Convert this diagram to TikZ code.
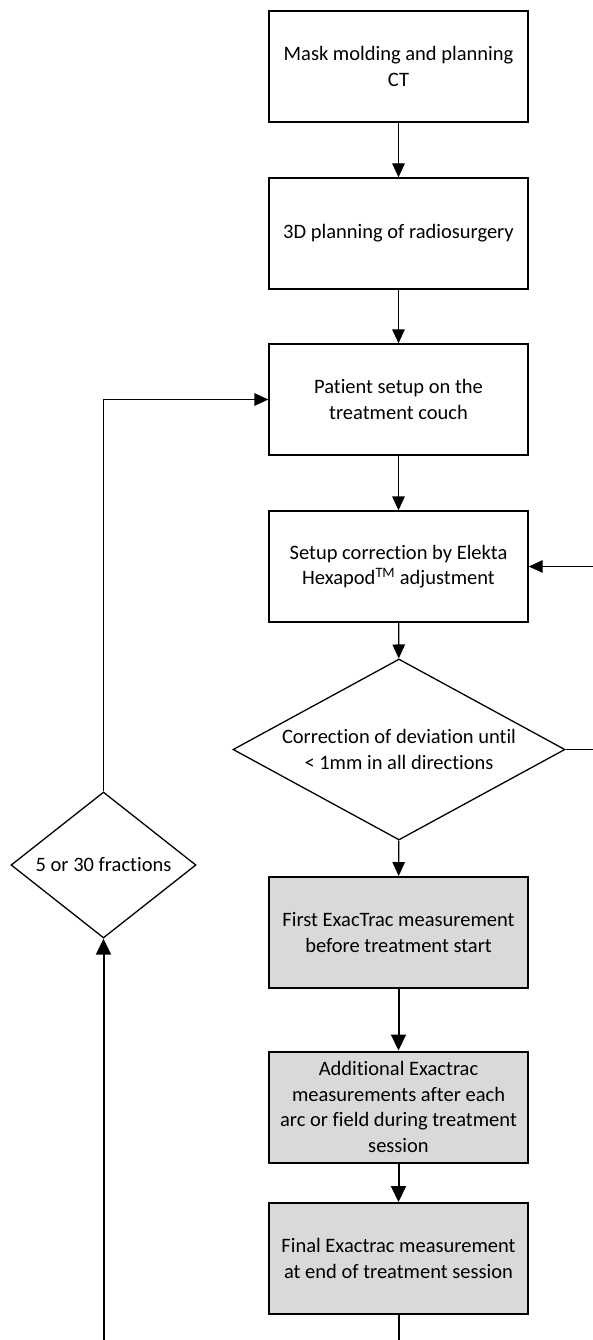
\documentclass[tikz,border=0pt]{standalone}
\usepackage{fontspec}
\setmainfont[Ligatures=NoCommon]{Carlito}
\usetikzlibrary{arrows.meta,shapes.geometric}
\definecolor{boxgray}{HTML}{D9D9D9}
\begin{document}
\begin{tikzpicture}[x=1pt,y=-1pt,
  font=\fontsize{20.5}{25.5}\selectfont,
  thinline/.style={line width=1.3pt},
  thickline/.style={line width=2pt},
  thinarrow/.style={thinline,-{Triangle[length=14pt,width=12.5pt]}},
  thickarrow/.style={thickline,-{Triangle[length=16pt,width=15pt]}},
  stepbox/.style={draw,thinline,rectangle,minimum width=259pt,minimum height=111pt,inner sep=0pt,align=center},
  graybox/.style={stepbox,thickline,fill=boxgray},
  dia/.style={draw,thinline,diamond,inner sep=0pt}
]
\useasboundingbox[fill=white] (0,0) rectangle (592,1340);

\node[stepbox] (b1) at (398.5,66.5) {Mask molding and planning\\CT};
\node[stepbox] (b2) at (398.5,233.5) {3D planning of radiosurgery};
\node[stepbox] (b3) at (398.5,399.5) {Patient setup on the\\treatment couch};
\node[stepbox] (b4) at (398.5,566.5) {Setup correction by Elekta\\Hexapod\textsuperscript{TM} adjustment};
\node[dia,minimum width=332pt,minimum height=181pt,
  label={[align=center]center:Correction of deviation until\\< 1mm in all directions}] (d1) at (399,749.5) {};
\node[graybox] (b5) at (398.5,932.5) {First ExacTrac measurement\\before treatment start};
\node[graybox] (b6) at (398.5,1107) {Additional Exactrac\\measurements after each\\arc or field during treatment\\session};
\node[graybox] (b7) at (398.5,1258.5) {Final Exactrac measurement\\at end of treatment session};
\node[dia,minimum width=185pt,minimum height=146pt,
  label={center:5 or 30 fractions}] (d2) at (103.5,865) {};

\coordinate (rt) at (594,749.5);
\coordinate (lp) at (398.5,1380);

\draw[thinarrow] (b1) -- (b2);
\draw[thinarrow] (b2) -- (b3);
\draw[thinarrow] (b3) -- (b4);
\draw[thinarrow] (b4) -- (d1);
\draw[thinarrow] (d1) -- (b5);
\draw[thickarrow] (b5) -- (b6);
\draw[thickarrow] (b6) -- (b7);
\draw[thinarrow] (d1.east) -- (rt) |- (b4.east);
\draw[thickarrow] (b7.south) -- (lp) -| (d2.south);
\draw[thinarrow] (d2.north) |- (b3.west);
\end{tikzpicture}
\end{document}
